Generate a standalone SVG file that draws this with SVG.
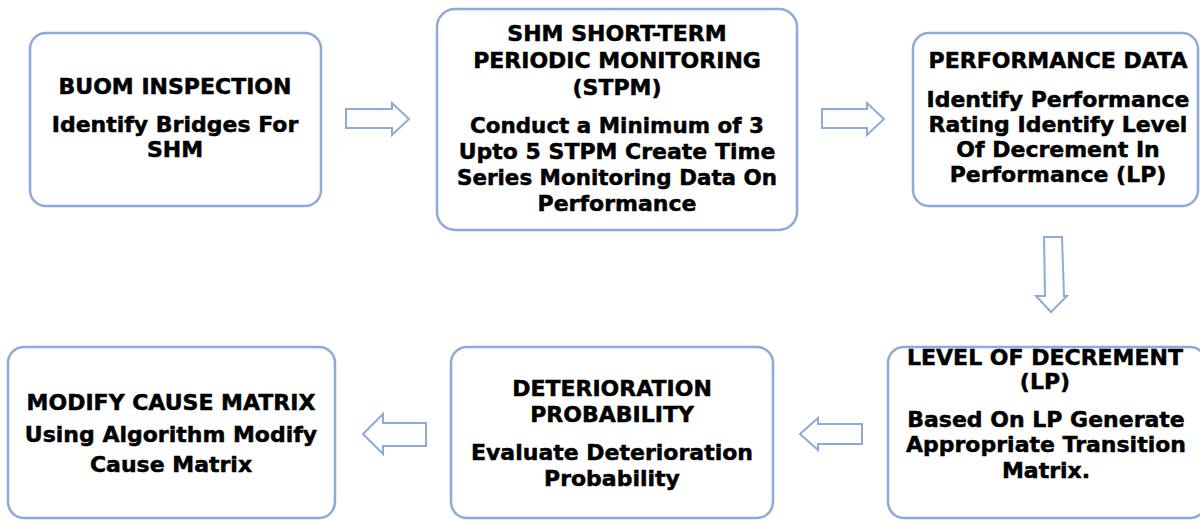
<svg xmlns="http://www.w3.org/2000/svg" width="1200" height="520" viewBox="0 0 1200 520">
  <style>
    .box { fill: #ffffff; stroke: #8eaadb; stroke-width: 2.5; }
    .arrow { fill: #ffffff; stroke: #8eaadb; stroke-width: 2; stroke-linejoin: miter; }
    text { font-family: "DejaVu Sans", Verdana, sans-serif; font-weight: bold; font-size: 22px; fill: #000000; stroke: #000000; stroke-width: 0.5; text-anchor: middle; }
  </style>
  <rect width="1200" height="520" fill="#ffffff"/>

  <g id="buom-inspection">
    <rect class="box" x="30" y="33" width="291" height="173" rx="16"/>
    <text x="175" y="94">BUOM INSPECTION</text>
    <text x="175" y="132">Identify Bridges For</text>
    <text x="175" y="157">SHM</text>
  </g>

  <g id="stpm">
    <rect class="box" x="437" y="9" width="360" height="221" rx="18"/>
    <text x="617" y="41">SHM SHORT-TERM</text>
    <text x="617" y="68">PERIODIC MONITORING</text>
    <text x="617" y="95">(STPM)</text>
    <text x="617" y="133" textLength="294" lengthAdjust="spacingAndGlyphs">Conduct a Minimum of 3</text>
    <text x="617" y="159">Upto 5 STPM Create Time</text>
    <text x="617" y="185" textLength="320" lengthAdjust="spacingAndGlyphs">Series Monitoring Data On</text>
    <text x="617" y="211">Performance</text>
  </g>

  <g id="performance-data">
    <rect class="box" x="913" y="33" width="285" height="173" rx="16"/>
    <text x="1058" y="68">PERFORMANCE DATA</text>
    <text x="1058" y="107">Identify Performance</text>
    <text x="1058" y="132">Rating  Identify Level</text>
    <text x="1058" y="157">Of Decrement In</text>
    <text x="1058" y="182">Performance  (LP)</text>
  </g>

  <g id="level-of-decrement">
    <rect class="box" x="888" y="347" width="318" height="171" rx="16"/>
    <text x="1045" y="365">LEVEL OF DECREMENT</text>
    <text x="1045" y="389">(LP)</text>
    <text x="1046" y="427">Based On LP Generate</text>
    <text x="1046" y="452">Appropriate Transition</text>
    <text x="1046" y="478">Matrix.</text>
  </g>

  <g id="deterioration-probability">
    <rect class="box" x="451" y="347" width="322" height="171" rx="16"/>
    <text x="612" y="396">DETERIORATION</text>
    <text x="612" y="422">PROBABILITY</text>
    <text x="612" y="460">Evaluate Deterioration</text>
    <text x="612" y="486">Probability</text>
  </g>

  <g id="modify-cause-matrix">
    <rect class="box" x="8" y="347" width="327" height="171" rx="16"/>
    <text x="171" y="410">MODIFY CAUSE MATRIX</text>
    <text x="171" y="442">Using Algorithm Modify</text>
    <text x="171" y="472">Cause Matrix</text>
  </g>

  <g id="connectors">
    <!-- right-pointing block arrows, top row -->
    <polygon class="arrow" points="346,109 392,109 392,103 409,119 392,135 392,128 346,128"/>
    <polygon class="arrow" points="822,109 867,109 867,103 884,119 867,135 867,128 822,128"/>
    <!-- downward block arrow, right column -->
    <polygon class="arrow" points="1044,237 1062,237 1064,296 1067,296 1051,312 1036,296 1045,296"/>
    <!-- left-pointing block arrows, bottom row -->
    <polygon class="arrow" points="862,424 818,424 818,418 800,434 818,450 818,444 862,444"/>
    <polygon class="arrow" points="426,423 383,423 383,414 363,434 383,454 383,446 426,446"/>
  </g>
</svg>
